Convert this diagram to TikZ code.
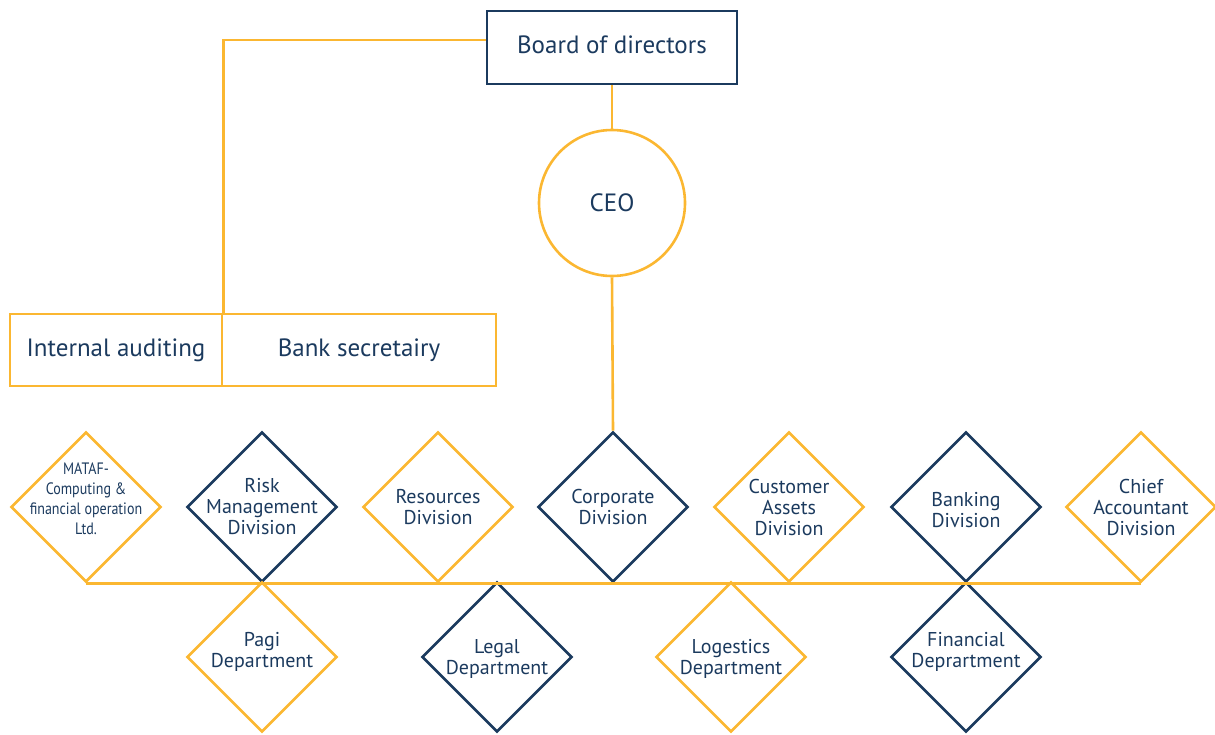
\documentclass[tikz,border=0pt]{standalone}
\usepackage{fontspec}
\setmainfont{PT Sans}
\usetikzlibrary{shapes.geometric}
\definecolor{gold}{HTML}{FBB731}
\definecolor{navy}{HTML}{1B3A5E}
\tikzset{
  conn/.style={draw=gold, line width=2.6pt},
  rbox/.style={draw=#1, line width=2.6pt, rectangle, inner sep=0pt},
  dia/.style={draw=#1, line width=2.6pt, diamond, minimum width=150pt, minimum height=150pt, inner sep=0pt},
  dtxt/.style={text=navy, align=center, font=\fontsize{20}{21}\selectfont, inner sep=0pt},
  btxt/.style={text=navy, font=\fontsize{25}{28}\selectfont, inner sep=0pt},
}
\begin{document}
\begin{tikzpicture}[x=1pt,y=-1pt]
\useasboundingbox (0,0) rectangle (1215,734);
% top boxes
\node[rbox=navy, minimum width=250pt, minimum height=73pt] (board) at (612,47.5) {};
\node[btxt] (boardt) at (612,45) {Board of directors};
\node[circle, draw=gold, line width=2.6pt, minimum size=146pt, inner sep=0pt] (ceo) at (612,203) {};
\node[btxt] (ceot) at (ceo.center) {CEO};
\node[rbox=gold, minimum width=212pt, minimum height=72pt] (aud) at (116,350) {};
\node[btxt] (audt) at (aud.center) {Internal auditing};
\node[rbox=gold, minimum width=274pt, minimum height=72pt] (sec) at (359,350) {};
\node[btxt] (sect) at (sec.center) {Bank secretairy};
% top row diamonds
\node[dia=gold] (mataf) at (86,507) {};
\node[dtxt, font=\fontsize{16.5}{20}\selectfont\addfontfeatures{FakeStretch=0.85}] (matoft) at (86,499) {MATAF-\\Computing \&\\financial operation\\Ltd.};
\node[dia=navy] (risk) at (262,507) {};
\node[dtxt] (riskt) at (262,507) {Risk\\Management\\Division};
\node[dia=gold] (res) at (438,507) {};
\node[dtxt] (rest) at (438,507) {Resources\\Division};
\node[dia=navy] (corp) at (613,507) {};
\node[dtxt] (corpt) at (613,507) {Corporate\\Division};
\node[dia=gold] (cust) at (789,507) {};
\node[dtxt] (custt) at (789,507) {Customer\\Assets\\Division};
\node[dia=navy] (bank) at (966,507) {};
\node[dtxt] (bankt) at (966,510) {Banking\\Division};
\node[dia=gold] (chief) at (1141,507) {};
\node[dtxt] (chieft) at (1141,507) {Chief\\Accountant\\Division};
% bottom row diamonds
\node[dia=gold] (pagi) at (262,657) {};
\node[dtxt] (pagit) at (262,652) {Pagi\\Department};
\node[dia=navy] (legal) at (497,657) {};
\node[dtxt] (legalt) at (497,659) {Legal\\Department};
\node[dia=gold] (log) at (731,657) {};
\node[dtxt] (logt) at (731,659) {Logestics\\Department};
\node[dia=navy] (fin) at (966,657) {};
\node[dtxt] (fint) at (966,652) {Financial\\Deprartment};
% connectors
\draw[conn] ([yshift=7.5pt]board.west) -| (aud.north east);
\draw[conn] (board.south) -- (ceo.north);
\draw[conn] (ceo.south) -- (corp.north);
\draw[conn] (mataf.south) -- (chief.south);
\end{tikzpicture}
\end{document}
